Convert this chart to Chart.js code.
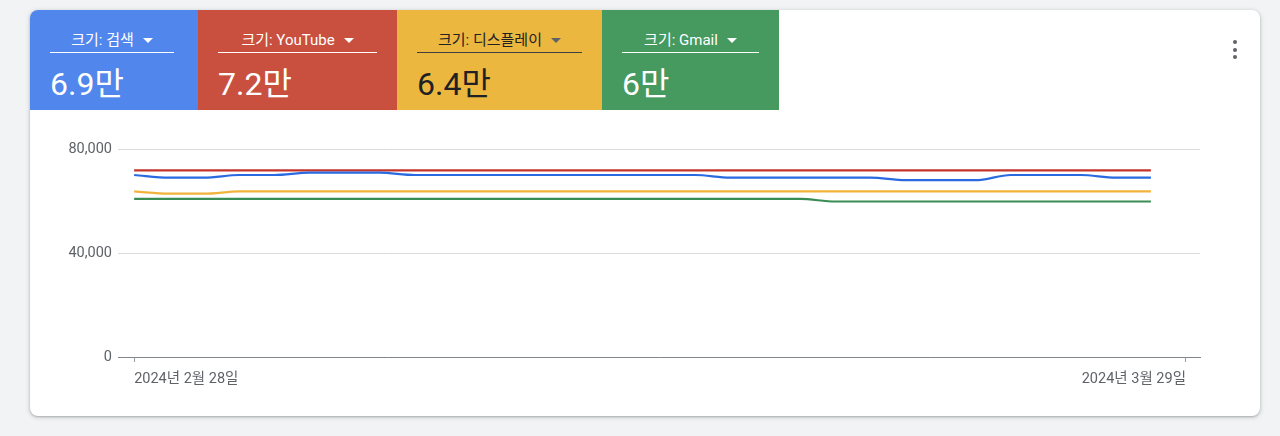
<html>
<head>
<meta charset="UTF-8">
<title>크기별 노출</title>
<style>
  body { margin: 0; background: #f1f3f4; font-family: Roboto, 'Noto Sans CJK KR', sans-serif; }
  .card { position: absolute; left: 30px; top: 10px; width: 1230px; height: 406px; background: #fff;
          border-radius: 8px; overflow: hidden;
          box-shadow: 0 1px 2px rgba(60,64,67,0.3), 0 1px 4px 1px rgba(60,64,67,0.15); }
  .tiles { display: flex; height: 100px; }
  .tile { box-sizing: border-box; padding: 0 20px; height: 100px; color: #fff; }
  .tile .lbl { margin-top: 20px; height: 22px; line-height: 20px; font-size: 15px; text-align: center;
               border-bottom: 1px solid #fff; white-space: nowrap; }
  .tile .caret { display: inline-block; width: 0; height: 0; margin-left: 9px; vertical-align: 2px;
                 border-left: 5.5px solid transparent; border-right: 5.5px solid transparent; border-top: 5.5px solid #fff; }
  .tile .num { margin-top: 11px; font-size: 32px; line-height: 40px; }
  .dark { color: #202124; }
  .dark .lbl { border-bottom-color: #3c4043; }
  .dark .caret { border-top-color: #5f6368; }
  .kebab { position: absolute; left: 1203px; top: 30px; width: 4px; }
  .kebab i { display: block; width: 4px; height: 4px; border-radius: 2px; background: #5f6368; margin-bottom: 3.5px; }
  .plot { position: absolute; left: 0; top: 100px; width: 1230px; height: 306px; }
</style>
</head>
<body>
<div class="card">
  <div class="tiles">
    <div class="tile" style="width:168px;background:#5186ec;padding-right:24px">
      <div class="lbl">크기: 검색<span class="caret"></span></div>
      <div class="num">6.9만</div>
    </div>
    <div class="tile" style="width:199px;background:#c9503f">
      <div class="lbl">크기: YouTube<span class="caret"></span></div>
      <div class="num">7.2만</div>
    </div>
    <div class="tile dark" style="width:205px;background:#ebb73f">
      <div class="lbl">크기: 디스플레이<span class="caret"></span></div>
      <div class="num">6.4만</div>
    </div>
    <div class="tile" style="width:177px;background:#46995f">
      <div class="lbl">크기: Gmail<span class="caret"></span></div>
      <div class="num">6만</div>
    </div>
  </div>
  <div class="kebab"><i></i><i></i><i></i></div>
  <div class="plot"><canvas id="myChart"></canvas></div>
</div>

<script src="https://cdn.jsdelivr.net/npm/chart.js@4"></script>
<script>
// 2024-02-28 ~ 2024-03-28, one value per day
var days = ['2/28','2/29','3/1','3/2','3/3','3/4','3/5','3/6','3/7','3/8',
            '3/9','3/10','3/11','3/12','3/13','3/14','3/15','3/16','3/17','3/18',
            '3/19','3/20','3/21','3/22','3/23','3/24','3/25','3/26','3/27','3/28']

var search  = [70000,69000,69000,70000,70000,70900,70900,70900,70000,70000,
               70000,70000,70000,70000,70000,70000,70000,69000,69000,69000,
               69000,69000,68000,68000,68000,70000,70000,70000,69000,69000]
var youtube = [71800,71800,71800,71800,71800,71800,71800,71800,71800,71800,
               71800,71800,71800,71800,71800,71800,71800,71800,71800,71800,
               71800,71800,71800,71800,71800,71800,71800,71800,71800,71800]
var display = [63700,62800,62800,63700,63700,63700,63700,63700,63700,63700,
               63700,63700,63700,63700,63700,63700,63700,63700,63700,63700,
               63700,63700,63700,63700,63700,63700,63700,63700,63700,63700]
var gmail   = [60800,60800,60800,60800,60800,60800,60800,60800,60800,60800,
               60800,60800,60800,60800,60800,60800,60800,60800,60800,60800,
               59800,59800,59800,59800,59800,59800,59800,59800,59800,59800]

var xTickPos    = [0, 30]
var xTickLabels = ['2024년 2월 28일', '2024년 3월 29일']
var yTicks      = [0, 40000, 80000]

var font = "Roboto, 'Noto Sans CJK KR', sans-serif"

function pts(arr) { return arr.map((v, i) => ({ x: i, y: v })) }
function ds(label, arr, color) {
  return { label: label, data: pts(arr), borderColor: color, backgroundColor: color,
           borderWidth: 2.2, pointRadius: 0, cubicInterpolationMode: 'monotone' }
}

var ctx = document.getElementById('myChart').getContext('2d')
var chart = new Chart(ctx, {
  type: 'line',
  data: { datasets: [ ds('검색', search, '#2a6ae0')
                    , ds('YouTube', youtube, '#c5332a')
                    , ds('디스플레이', display, '#f2b33d')
                    , ds('Gmail', gmail, '#3a8c55') ] },
  options: {
    responsive: true, maintainAspectRatio: false, animation: false,
    layout: { padding: { top: 39, right: 60, bottom: 19, left: 0 } },
    plugins: { legend: { display: false }, tooltip: { enabled: false } },
    scales: {
      x: { type: 'linear', min: -0.46, max: 30.4,
           afterBuildTicks: (s) => { s.ticks = xTickPos.map(v => ({ value: v })) },
           afterFit: (s) => { s.height = 40 },
           ticks: { align: 'inner', maxRotation: 0, autoSkip: false, padding: 9, color: '#5f6368',
                    font: { family: font, size: 14.5 },
                    callback: (v) => xTickLabels[xTickPos.indexOf(v)] },
           grid: { drawOnChartArea: false, drawTicks: true, tickLength: 5, color: '#9aa0a6' },
           border: { display: true, color: '#80868b', width: 1 } },
      y: { min: 0, max: 80000,
           afterBuildTicks: (s) => { s.ticks = yTicks.map(v => ({ value: v })) },
           afterFit: (s) => { s.width = 88 },
           ticks: { padding: 6, color: '#5f6368', font: { family: font, size: 14.5 },
                    callback: (v) => v.toLocaleString('en-US') },
           grid: { color: '#dadce0', drawTicks: false },
           border: { display: false } }
    }
  }
})
</script>
</body>
</html>
